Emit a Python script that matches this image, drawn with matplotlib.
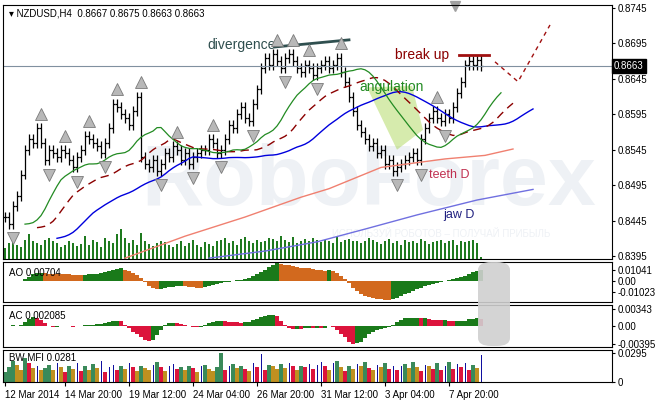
import matplotlib
matplotlib.use("Agg")
import matplotlib.pyplot as plt
import numpy as np
from matplotlib.patches import Polygon, FancyBboxPatch
import matplotlib.transforms as mtransforms

plt.rcParams['font.family'] = ['Liberation Sans', 'DejaVu Sans']

closes = [.8450,.8440,.8465,.8480,.8510,.8545,.8560,.8555,.8575,.8555,
          .8530,.8545,.8540,.8535,.8545,.8540,.8530,.8520,.8535,.8545,
          .8565,.8560,.8555,.8550,.8540,.8555,.8575,.8610,.8605,.8595,
          .8590,.8580,.8600,.8620,.8535,.8525,.8520,.8530,.8515,.8525,
          .8540,.8535,.8550,.8545,.8530,.8540,.8525,.8535,.8540,.8545,
          .8545,.8560,.8555,.8540,.8545,.8560,.8580,.8575,.8595,.8605,
          .8590,.8585,.8610,.8630,.8660,.8675,.8665,.8680,.8670,.8660,
          .8675,.8680,.8670,.8660,.8655,.8665,.8660,.8650,.8660,.8665,
          .8670,.8660,.8665,.8675,.8655,.8640,.8620,.8600,.8580,.8570,
          .8560,.8550,.8555,.8540,.8545,.8525,.8530,.8515,.8520,.8525,
          .8530,.8535,.8540,.8530,.8560,.8575,.8590,.8600,.8590,.8585,
          .8595,.8590,.8605,.8625,.8640,.8665,.8670,.8665,.8672,.8663]
volume = [30,45,60,40,35,55,70,50,45,40, 55,60,50,45,35,40,50,45,38,42,
          65,40,55,48,35,60,52,45,70,85, 60,45,55,40,75,50,42,38,45,52,
          48,40,35,42,50,38,45,55,40,35, 48,42,38,50,55,60,45,52,40,58,
          62,50,45,55,48,52,60,58,50,65, 55,48,62,45,50,58,52,60,55,48,
          55,50,45,62,48,55,58,52,50,45, 52,60,55,48,42,50,58,45,52,40,
          55,48,52,45,58,50,42,48,52,55, 45,50,55,40,52,48,50,55,45,5]
ao = [.0003,.0002,.0004,.0003,.0005,.002,.004,.006,.007,.0075,
      .0072,.0068,.0066,.0065,.0064,.0062,.006,.0058,.0057,.0056,
      .0058,.006,.0062,.0065,.007,.0078,.0088,.0098,.0108,.0115,
      .0105,.0092,.0075,.0055,.0025,-.001,-.004,-.0065,-.007,-.0068,
      -.006,-.0055,-.005,-.0048,-.0045,-.0047,-.005,-.0055,-.0058,-.006,
      -.0055,-.0045,-.0035,-.0028,-.002,-.0012,-.0005,.0002,.0008,.0012,
      .002,.003,.0045,.006,.008,.010,.0125,.0145,.016,.0155,
      .015,.0142,.0135,.013,.0122,.012,.0115,.011,.0105,.01,
      .0095,.0098,.009,.0075,.005,.002,-.002,-.006,-.009,-.012,
      -.0135,-.0145,-.0155,-.016,-.0165,-.0168,-.017,-.0165,-.015,-.0135,
      -.012,-.0105,-.009,-.0075,-.006,-.0045,-.0035,-.0025,-.0015,-.0005,
      .0005,.0012,.002,.003,.004,.005,.0065,.008,.0095,.0104]
mfi = [.010,.015,.022,.018,.012,.025,.020,.014,.016,.012,
       .014,.018,.012,.020,.015,.010,.016,.013,.020,.011,
       .017,.012,.019,.014,.022,.010,.015,.018,.012,.016,
       .013,.020,.015,.011,.017,.014,.012,.018,.021,.015,
       .011,.016,.019,.013,.015,.012,.017,.014,.010,.016,
       .018,.013,.011,.015,.030,.012,.016,.019,.014,.017,
       .013,.011,.020,.015,.029,.012,.018,.016,.013,.019,
       .014,.020,.016,.012,.017,.015,.019,.013,.018,.021,
       .016,.012,.020,.022,.015,.011,.017,.013,.019,.016,
       .021,.014,.012,.018,.015,.020,.013,.017,.012,.016,
       .019,.014,.021,.015,.011,.018,.016,.013,.020,.012,
       .017,.021,.013,.019,.015,.020,.012,.018,.014,.0281]
dates = ["12 Mar 2014", "14 Mar 20:00", "19 Mar 12:00", "24 Mar 04:00",
         "26 Mar 20:00", "31 Mar 12:00", "3 Apr 04:00", "7 Apr 20:00"]
date_idx = [0, 15, 31, 47, 63, 79, 95, 111]
ma_seed = [.8420, .8435, .8440]  # jaw, teeth, lips starting values
teethD_idx = [30, 45, 60, 74, 81, 94, 110, 120, 127]
teethD_val = [.8392, .8423, .8450, .8478, .8490, .8520, .8532, .8537, .8546]
jawD_idx = [51, 65, 78, 90, 103, 118, 132]
jawD_val = [.8392, .8402, .8415, .8433, .8453, .8474, .8489]
fc_idx = [122.5, 128.25, 136.25]
fc_val = [.8669, .8641, .8721]
div_idx = [67.5, 86]
div_val = [.8690, .8700]
brk_idx = [113.5, 121]
brk_val = [.8679, .8679]
ang_idx = [90.5, 98, 104.5, 101.75]
ang_val = [.8633, .8545, .8573, .8635]

W, H = 656, 400
fig = plt.figure(figsize=(W/100, H/100), dpi=100)
def rect(t, b):
    return [3/W, 1-b/H, 609/W, (b-t)/H]
ax = fig.add_axes(rect(5, 259))
axao = fig.add_axes(rect(262, 302))
axac = fig.add_axes(rect(305, 347))
axm = fig.add_axes(rect(350, 382))
n = len(closes)
x = np.arange(n)
c = np.array(closes)
o = np.r_[c[0], c[:-1]]
hi = np.maximum(o, c) + 0.0007
lo = np.minimum(o, c) - 0.0007
med = (hi + lo) / 2

# volume
axv = ax.twinx()
axv.bar(x, volume, width=0.3, color="#1f7a1f")
axv.set_ylim(0, 85*8.5)
axv.axis("off")
ax.set_zorder(axv.get_zorder()+1); ax.patch.set_visible(False)
axv.text(0.6, 0.3, "RoboForex", transform=axv.transAxes, fontsize=62,
         color="#eef1f5", ha="center", va="center", fontweight="bold", zorder=0)
axv.text(0.72, 0.1, "ИСПОЛЬЗУЙ РОБОТОВ – ПОЛУЧАЙ ПРИБЫЛЬ", transform=axv.transAxes,
         fontsize=7, color="#eef1f5", ha="center", va="center", zorder=0)

ax.vlines(x, lo, hi, color="black", lw=0.9)
ax.hlines(o, x-0.5, x, color="black", lw=0.9)
ax.hlines(c, x, x+0.5, color="black", lw=0.9)

def smma(v, p, seed):
    r = np.empty_like(v); r[0] = seed
    for i in range(1, len(v)):
        r[i] = (r[i-1]*(p-1) + v[i]) / p
    return r
ax.plot(x+13, smma(med, 21, ma_seed[0]), color="#0000dd", lw=1)
ax.plot(x+8, smma(med, 13, ma_seed[1]), color="#8b0000", lw=1, dashes=(6, 4))
ax.plot(x+5, smma(med, 8, ma_seed[2]), color="#228b22", lw=0.9)
ax.plot(teethD_idx, teethD_val, color="#f08070", lw=1)
ax.plot(jawD_idx, jawD_val, color="#7070e0", lw=1)

up_i, dn_i = [], []
for i in range(2, n-2):
    if hi[i] >= hi[i-2:i].max() and hi[i] > hi[i+1:i+3].max():
        up_i.append(i)
    if lo[i] <= lo[i-2:i].min() and lo[i] < lo[i+1:i+3].min():
        dn_i.append(i)
up_i = np.array(up_i, dtype=int); dn_i = np.array(dn_i, dtype=int)
ax.plot(up_i, hi[up_i] + 0.0013, ls="none", marker="^", mfc="#b8b8b8",
        mec="#7a7a7a", mew=0.6, ms=8, zorder=5)
ax.plot(dn_i, lo[dn_i] - 0.0013, ls="none", marker="v", mfc="#b8b8b8",
        mec="#7a7a7a", mew=0.6, ms=8, zorder=5)

ax.add_patch(Polygon(list(zip(ang_idx, ang_val)), closed=True,
                     color="#9acd32", alpha=0.4, lw=0))
ax.plot(div_idx, div_val, color="#2f4f4f", lw=2)
ax.plot(brk_idx, brk_val, color="#a01010", lw=2)
ax.plot(fc_idx, fc_val, color="#a01010", lw=1, ls=(0, (3, 3)))
ax.axhline(closes[-1], color="#8090a0", lw=0.8)
ax.text(50.5, .8693, "divergence", color="#2f4f4f", fontsize=10, va="center")
ax.text(97.5, .8679, "break up", color="#8b0000", fontsize=10, va="center")
ax.text(88.5, .8633, "angulation", color="#228b22", fontsize=10, va="center")
ax.text(106, .8510, "teeth D", color="#c03050", fontsize=9, va="center")
ax.text(109.5, .8453, "jaw D", color="#202080", fontsize=9, va="center")
ax.text(0.01, 0.985, "▾ NZDUSD,H4  0.8667 0.8675 0.8663 0.8663",
        transform=ax.transAxes, fontsize=7, va="top")
ax.plot(112.5, .87475, marker="v", color="#a0a0a0", ms=7, clip_on=False)
ax.set_ylim(0.83908, 0.87492)
ax.set_yticks([.8745, .8695, .8645, .8595, .8545, .8495, .8445, .8395])
ax.set_yticklabels(["%.4f" % v for v in ax.get_yticks()])
tr = mtransforms.blended_transform_factory(ax.transAxes, ax.transData)
ax.text(1.003, closes[-1], "%.4f" % closes[-1], transform=tr, color="white",
        fontsize=7, va="center", bbox=dict(fc="black", ec="black", pad=1.5))

ao_a = np.array(ao)
ao_col = ["#1a7a1a" if i == 0 or ao_a[i] >= ao_a[i-1] else "#d2691e" for i in range(n)]
axao.bar(x, ao_a, width=0.8, color=ao_col)
axao.set_ylim(-0.0189, 0.0173)
axao.set_yticks([0.01041, 0, -0.01023])
axao.set_yticklabels(["0.01041", "0.00", "-0.01023"])
axao.text(0.01, 0.85, "AO 0.00704", transform=axao.transAxes, fontsize=7, va="top")

ac = ao_a - np.convolve(ao_a, np.ones(5)/5, mode="full")[:n]*np.r_[[5/(k+1) for k in range(4)], np.ones(n-4)]
ac_col = ["#1a7a1a" if i == 0 or ac[i] >= ac[i-1] else "#dc143c" for i in range(n)]
axac.bar(x, ac, width=0.8, color=ac_col)
m = np.abs(ac).max()
axac.set_ylim(-m*1.15, m*1.1)
axac.set_yticks([m*0.87, 0, -m])
axac.set_yticklabels(["0.00343", "0.00", "-0.00395"])
axac.text(0.01, 0.85, "AC 0.002085", transform=axac.transAxes, fontsize=7, va="top")

mf = np.array(mfi); vv = np.array(volume)
mcol, mw = [], []
for i in range(n):
    up = i == 0 or mf[i] >= mf[i-1]
    vup = i == 0 or vv[i] >= vv[i-1]
    if up and vup: mcol.append("#3a8a5a"); mw.append(0.8)
    elif not up and not vup: mcol.append("#c09020"); mw.append(0.8)
    elif up and not vup: mcol.append("#1010a0"); mw.append(0.25)
    else: mcol.append("#dc143c"); mw.append(0.8)
axm.bar(x, mf, width=mw, color=mcol)
axm.set_ylim(0, 0.033)
axm.set_yticks([0.0295, 0])
axm.set_yticklabels(["0.0295", "0"])
axm.text(0.01, 0.9, "BW MFI 0.0281", transform=axm.transAxes, fontsize=7, va="top")

for a in (ax, axao, axac, axm):
    a.set_xlim(-0.5, 151.75)
    a.yaxis.tick_right()
    a.tick_params(axis="y", labelsize=7, length=2, pad=2)
    a.tick_params(axis="x", length=0)
    a.set_xticks([])
    for s in a.spines.values():
        s.set_linewidth(0.8)
axm.set_xticks(date_idx)
axm.set_xticklabels(dates, fontsize=7, ha="left")
axm.tick_params(axis="x", length=3, pad=3)

fig.patches.append(FancyBboxPatch((478/W, 1-346/H), 32/W, 84/H,
    boxstyle="round,pad=0,rounding_size=0.02", transform=fig.transFigure,
    fc="#d0d0d0", ec="none", alpha=0.9, zorder=10))
fig.savefig("out.png", dpi=100)
